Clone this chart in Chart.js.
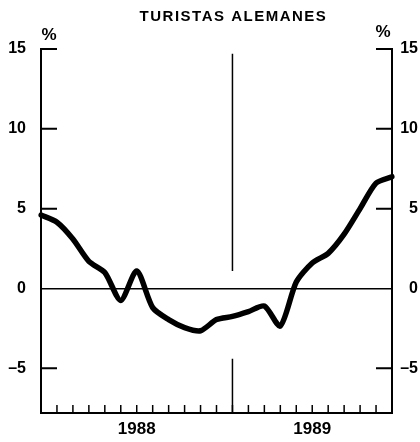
<!DOCTYPE html>
<html>
<head>
<meta charset="utf-8">
<script src="https://cdn.jsdelivr.net/npm/chart.js@4.4.0/dist/chart.umd.min.js"></script>
<style>
  body { margin: 0; background: #fff; }
  canvas { display: block; }
</style>
</head>
<body>
<canvas id="myChart" width="420" height="442"></canvas>
<script>
// meses: enero 1988 a noviembre 1989
const months = [
  '1988-01', '1988-02', '1988-03', '1988-04', '1988-05', '1988-06',
  '1988-07', '1988-08', '1988-09', '1988-10', '1988-11', '1988-12',
  '1989-01', '1989-02', '1989-03', '1989-04', '1989-05', '1989-06',
  '1989-07', '1989-08', '1989-09', '1989-10', '1989-11'
];
// variacion en % de turistas alemanes
const values = [
  4.6, 4.15, 3.1, 1.7, 1.0, -0.75, 1.1, -1.2, -1.95, -2.45, -2.65, -1.95,
  -1.75, -1.45, -1.1, -2.35, 0.4, 1.6, 2.2, 3.4, 5.0, 6.6, 7.0
];
const yTicks = [-5, 0, 5, 10, 15];
const years = ['1988', '1989'];
const title = 'TURISTAS ALEMANES';

const fontName = '"Liberation Sans", Arial, sans-serif';

// posicion (indice de mes) donde va la etiqueta de cada año
function yearMid(yr) {
  const first = months.findIndex(m => m.startsWith(yr));
  let next = months.findIndex(m => m > yr + '-12');
  if (next < 0) next = months.length - 1;
  return (first + next) / 2;
}
const yearAt = years.map(yearMid);

function fmt(v) {
  return v < 0 ? '\u2013' + (-v) : String(v);
}

const extras = {
  id: 'extras',
  afterDraw(chart) {
    const { ctx, chartArea: a, scales: { x, y } } = chart;
    ctx.save();
    ctx.strokeStyle = '#000';
    ctx.fillStyle = '#000';

    // marcas interiores en los ejes verticales
    ctx.lineWidth = 2;
    yTicks.forEach(v => {
      if (v === 0) return;
      const py = y.getPixelForValue(v);
      ctx.beginPath();
      ctx.moveTo(a.left, py); ctx.lineTo(a.left + 16, py);
      ctx.moveTo(a.right - 16, py); ctx.lineTo(a.right, py);
      ctx.stroke();
    });

    // marcas mensuales
    ctx.lineWidth = 1.5;
    months.forEach((m, i) => {
      const px = x.getPixelForValue(i);
      ctx.beginPath();
      ctx.moveTo(px, a.bottom); ctx.lineTo(px, a.bottom - 8);
      ctx.stroke();
    });

    // linea de cambio de año
    const split = x.getPixelForValue(months.findIndex(m => m.startsWith(years[1])));
    ctx.beginPath();
    ctx.moveTo(split, y.getPixelForValue(14.7)); ctx.lineTo(split, y.getPixelForValue(1.1));
    ctx.moveTo(split, y.getPixelForValue(-4.4)); ctx.lineTo(split, a.bottom);
    ctx.stroke();

    // titulo
    ctx.font = 'bold 15px ' + fontName;
    ctx.letterSpacing = '1.5px';
    ctx.textAlign = 'center';
    ctx.textBaseline = 'middle';
    ctx.fillText(title, split + 1, 17);
    ctx.letterSpacing = '0px';

    // simbolos de %
    ctx.font = 'bold 17px "Liberation Sans Narrow", ' + fontName;
    ctx.fillText('%', a.left + 8, 35);
    ctx.fillText('%', a.right - 9, 32);
    ctx.restore();
  }
};

const ctx = document.getElementById('myChart').getContext('2d');

const myChart = new Chart(ctx, {
  type: 'line',
  data: {
    labels: months,
    datasets: [{
      data: values,
      borderColor: '#000',
      borderWidth: 5.5,
      pointRadius: 0,
      tension: 0.25,
      borderCapStyle: 'round',
      borderJoinStyle: 'round',
      yAxisID: 'y'
    }]
  },
  options: {
    responsive: false,
    animation: false,
    layout: { padding: { top: 49, right: 2, left: 0, bottom: 0 } },
    plugins: { legend: { display: false }, tooltip: { enabled: false } },
    scales: {
      x: {
        type: 'category',
        offset: false,
        grid: { display: false, drawTicks: false },
        border: { display: true, color: '#000', width: 2 },
        ticks: {
          autoSkip: false,
          maxRotation: 0,
          padding: 6,
          color: '#000',
          font: { family: fontName, size: 17, weight: 'bold' },
          callback: (v, i) => {
            const k = yearAt.indexOf(i);
            return k >= 0 ? years[k] : '';
          }
        },
        afterFit: s => { s.height = 29; }
      },
      y: {
        position: 'left',
        min: -7.8,
        max: 15,
        afterBuildTicks: s => { s.ticks = yTicks.map(v => ({ value: v })); },
        grid: {
          drawTicks: false,
          lineWidth: 1.5,
          color: c => (c.tick && c.tick.value === 0 ? '#000' : 'rgba(0,0,0,0)')
        },
        border: { display: true, color: '#000', width: 2 },
        ticks: {
          padding: 15,
          color: '#000',
          font: { family: fontName, size: 16, weight: 'bold' },
          callback: v => fmt(v)
        },
        afterFit: s => { s.width = 41; }
      },
      y2: {
        position: 'right',
        min: -7.8,
        max: 15,
        afterBuildTicks: s => { s.ticks = yTicks.map(v => ({ value: v })); },
        grid: { display: false, drawTicks: false },
        border: { display: true, color: '#000', width: 2 },
        ticks: {
          crossAlign: 'far',
          color: '#000',
          font: { family: fontName, size: 16, weight: 'bold' },
          callback: v => fmt(v)
        },
        afterFit: s => { s.width = 26; }
      }
    }
  },
  plugins: [extras]
});
</script>
</body>
</html>
